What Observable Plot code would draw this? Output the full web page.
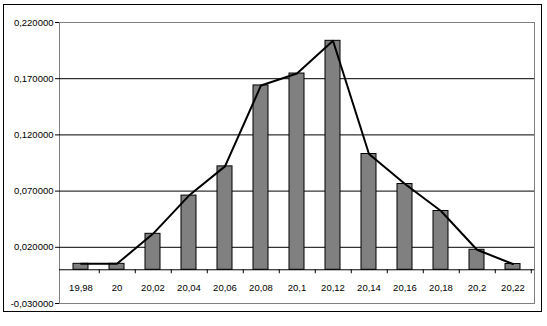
<!DOCTYPE html>
<html><head><meta charset="utf-8">
<script src="https://cdn.jsdelivr.net/npm/d3@7"></script>
<script src="https://cdn.jsdelivr.net/npm/@observablehq/plot@0.6"></script>
<style>
body{margin:0;background:#fff;}
#wrap{position:relative;width:547px;height:326px;}
#border{position:absolute;left:3px;top:4px;width:539px;height:308px;box-sizing:border-box;border:1px solid #000;pointer-events:none;}
#wrap svg{position:absolute;left:0;top:0;}
</style>
</head><body><div id="wrap"><div id="border"></div></div>
<script>
const categories = ["19,98","20","20,02","20,04","20,06","20,08","20,1","20,12","20,14","20,16","20,18","20,2","20,22"];
const values = [0.0053,0.0053,0.032,0.066,0.092,0.164,0.1746,0.2037,0.103,0.0763,0.0523,0.0178,0.0051];
const yTicks = [-0.03,0.02,0.07,0.12,0.17,0.22];
const gridLines = [0.02,0.07,0.12,0.17];

const data = categories.map((c,i)=>({cat:c, v:values[i]}));
const W = 547, H = 326, mL = 59, mR = 13, mT = 22, mB = 23;
const step = (W - mL - mR) / categories.length;
const fmt = d => d3.format(".6f")(d).replace("\u2212","-").replace(".",",");

const chart = Plot.plot({
  width: W, height: H,
  marginLeft: mL, marginRight: mR, marginTop: mT, marginBottom: mB,
  style: {fontFamily: "'Liberation Sans', Arial, sans-serif", fontSize: "9.5px", color: "#000", background: "transparent"},
  x: {type: "band", domain: categories, paddingInner: 0.59, paddingOuter: 0.295, axis: null},
  y: {domain: [-0.03, 0.22], axis: null},
  marks: [
    Plot.frame({stroke: "#808080"}),
    Plot.ruleY(gridLines, {stroke: "#000"}),
    Plot.axisY({ticks: yTicks, tickFormat: fmt, tickSize: 4, tickPadding: 2, label: null, fontSize: 9.5}),
    Plot.barY(data, {x: "cat", y1: 0, y2: "v", fill: "#808080", stroke: "#000", strokeWidth: 1}),
    Plot.ruleY([0], {stroke: "#000"}),
    Plot.ruleX(categories, {x: d => d, y1: 0, y2: 0, insetBottom: -4, dx: step/2, stroke: "#000"}),
    Plot.line(data, {x: "cat", y: "v", stroke: "#000", strokeWidth: 2}),
    Plot.text(data, {x: "cat", y: 0, text: "cat", dy: 18, fontSize: 9.5}),
    Plot.ruleX([0], {frameAnchor: "left", stroke: "#000"})
  ]
});
document.getElementById("wrap").insertBefore(chart, document.getElementById("border"));
</script>
</body></html>
